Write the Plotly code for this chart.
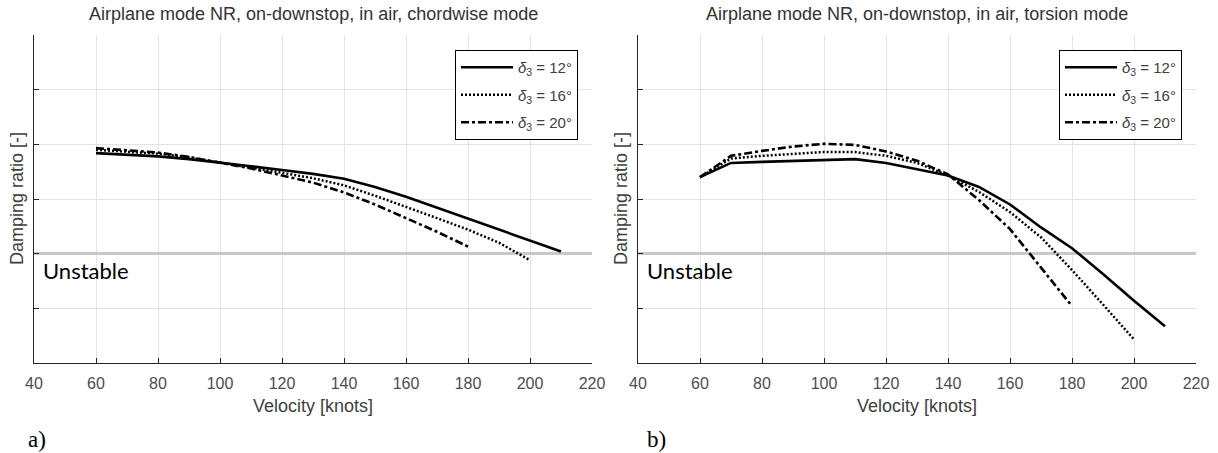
import plotly.graph_objects as go

W, H = 1218, 453

# ---------------- data ----------------
velocity = [60, 70, 80, 90, 100, 110, 120, 130, 140, 150, 160, 170, 180, 190, 200, 210]

# (a) chordwise mode  (damping ratio, arbitrary scale; tick labels hidden in source)
chord_d12 = [0.0184, 0.0181, 0.0178, 0.0173, 0.0167, 0.0160, 0.0153, 0.0146, 0.0137,
             0.0122, 0.0104, 0.0084, 0.0064, 0.0044, 0.0023, 0.0004]
chord_d16 = [0.0190, 0.0187, 0.0183, 0.0176, 0.0167, 0.0158, 0.0148, 0.0138, 0.0125,
             0.0106, 0.0086, 0.0065, 0.0044, 0.0020, -0.0012]
chord_d20 = [0.0193, 0.0189, 0.0185, 0.0177, 0.0167, 0.0156, 0.0143, 0.0130, 0.0112,
             0.0090, 0.0065, 0.0040, 0.0013]

# (b) torsion mode
tors_d12 = [0.0140, 0.0166, 0.0168, 0.0170, 0.0171, 0.0173, 0.0166, 0.0155, 0.0143,
            0.0122, 0.0090, 0.0048, 0.0010, -0.0037, -0.0086, -0.0133]
tors_d16 = [0.0140, 0.0174, 0.0179, 0.0183, 0.0186, 0.0186, 0.0179, 0.0166, 0.0143,
            0.0113, 0.0076, 0.0030, -0.0030, -0.0093, -0.0157]
tors_d20 = [0.0140, 0.0179, 0.0188, 0.0196, 0.0201, 0.0199, 0.0187, 0.0170, 0.0145,
            0.0098, 0.0045, -0.0025, -0.0096]

legend_names = ["<i>δ</i><sub>3</sub> = 12°", "<i>δ</i><sub>3</sub> = 16°", "<i>δ</i><sub>3</sub> = 20°"]
titles = ["Airplane mode NR, on-downstop, in air, chordwise mode",
          "Airplane mode NR, on-downstop, in air, torsion mode"]
x_ticks = [40, 60, 80, 100, 120, 140, 160, 180, 200, 220]
y_ticks = [-0.02, -0.01, 0.0, 0.01, 0.02, 0.03, 0.04]
panel_labels = ["a)", "b)"]

# ---------------- layout geometry (pixels) ----------------
L1, R1 = 34, 592
L2, R2 = 638, 1196
TOP, BOT = 35, 363

def px(x):
    return x / W

def py(y):
    return 1 - y / H

dashes = ["solid", "2px,2px", "8px,3px,3px,3px"]
widths = [2.6, 2.5, 2.6]

fig = go.Figure()

series = [
    (chord_d12, chord_d16, chord_d20),
    (tors_d12, tors_d16, tors_d20),
]
for p, trip in enumerate(series):
    xa = "x" if p == 0 else "x2"
    ya = "y" if p == 0 else "y2"
    lg = "legend" if p == 0 else "legend2"
    for k, ys in enumerate(trip):
        fig.add_trace(go.Scatter(
            x=velocity[:len(ys)], y=ys, mode="lines",
            line=dict(color="black", width=widths[k], dash=dashes[k]),
            name=legend_names[k], xaxis=xa, yaxis=ya, legend=lg,
            legendgroup=f"p{p}g{k}", hoverinfo="skip",
        ))

axis_common_x = dict(
    range=[40, 220], tickvals=x_ticks, ticks="inside", ticklen=5, tickcolor="#262626",
    showline=True, linecolor="#262626", linewidth=1,
    showgrid=True, gridcolor="#e3e3e3", gridwidth=1, zeroline=False,
    tickfont=dict(family="Liberation Sans, Arial", size=16, color="#4d4d4d"),
    ticklabelstandoff=6, automargin=False, fixedrange=True,
)
axis_common_y = dict(
    range=[-0.02, 0.04], tickvals=y_ticks, ticks="inside", ticklen=5, tickcolor="#262626",
    showline=True, linecolor="#262626", linewidth=1, showticklabels=False,
    showgrid=True, gridcolor="#e3e3e3", gridwidth=1,
    zeroline=True, zerolinecolor="#c8c8c8", zerolinewidth=3,
    automargin=False, fixedrange=True,
)

legend_common = dict(
    bgcolor="white", bordercolor="black", borderwidth=1,
    font=dict(family="Liberation Sans, Arial", size=15, color="#404040"),
    itemwidth=52, xanchor="right", yanchor="top",
    tracegroupgap=5, itemclick=False, itemdoubleclick=False,
)

fig.update_layout(
    width=W, height=H,
    margin=dict(l=0, r=0, t=0, b=0, autoexpand=False),
    paper_bgcolor="white", plot_bgcolor="white",
    xaxis=dict(domain=[px(L1), px(R1)], anchor="y", **axis_common_x),
    yaxis=dict(domain=[py(BOT), py(TOP)], anchor="x", **axis_common_y),
    xaxis2=dict(domain=[px(L2), px(R2)], anchor="y2", **axis_common_x),
    yaxis2=dict(domain=[py(BOT), py(TOP)], anchor="x2", **axis_common_y),
    legend=dict(x=px(578), y=py(50), **legend_common),
    legend2=dict(x=px(1182), y=py(50), **legend_common),
    showlegend=True,
)

annotations = []
for p, (L, R) in enumerate([(L1, R1), (L2, R2)]):
    cx = (L + R) / 2
    annotations.append(dict(
        text=titles[p], x=px(cx), y=py(14), xref="paper", yref="paper",
        xanchor="center", yanchor="middle", showarrow=False,
        font=dict(family="Liberation Sans, Arial", size=18, color="#333333"),
    ))
    annotations.append(dict(
        text="Velocity [knots]", x=px(cx), y=py(406), xref="paper", yref="paper",
        xanchor="center", yanchor="middle", showarrow=False,
        font=dict(family="Liberation Sans, Arial", size=18, color="#404040"),
    ))
    annotations.append(dict(
        text="Damping ratio [-]", x=px(L - 17), y=py((TOP + BOT) / 2), xref="paper", yref="paper",
        xanchor="center", yanchor="middle", showarrow=False, textangle=-90,
        font=dict(family="Liberation Sans, Arial", size=18, color="#404040"),
    ))
    annotations.append(dict(
        text="Unstable", x=42.2, y=-0.0031, xref="x" if p == 0 else "x2", yref="y" if p == 0 else "y2",
        xanchor="left", yanchor="middle", showarrow=False,
        font=dict(family="Lato, Carlito, sans-serif", size=22, color="black"),
    ))
annotations.append(dict(
    text=panel_labels[0], x=px(26), y=py(439), xref="paper", yref="paper",
    xanchor="left", yanchor="middle", showarrow=False,
    font=dict(family="Liberation Serif, Times New Roman", size=23, color="black"),
))
annotations.append(dict(
    text=panel_labels[1], x=px(645), y=py(439), xref="paper", yref="paper",
    xanchor="left", yanchor="middle", showarrow=False,
    font=dict(family="Liberation Serif, Times New Roman", size=23, color="black"),
))
fig.update_layout(annotations=annotations)

fig.write_html(
    "out.html",
    config={"displayModeBar": False, "staticPlot": False},
    post_script="document.body.style.margin='0';document.body.style.overflow='hidden';",
)
